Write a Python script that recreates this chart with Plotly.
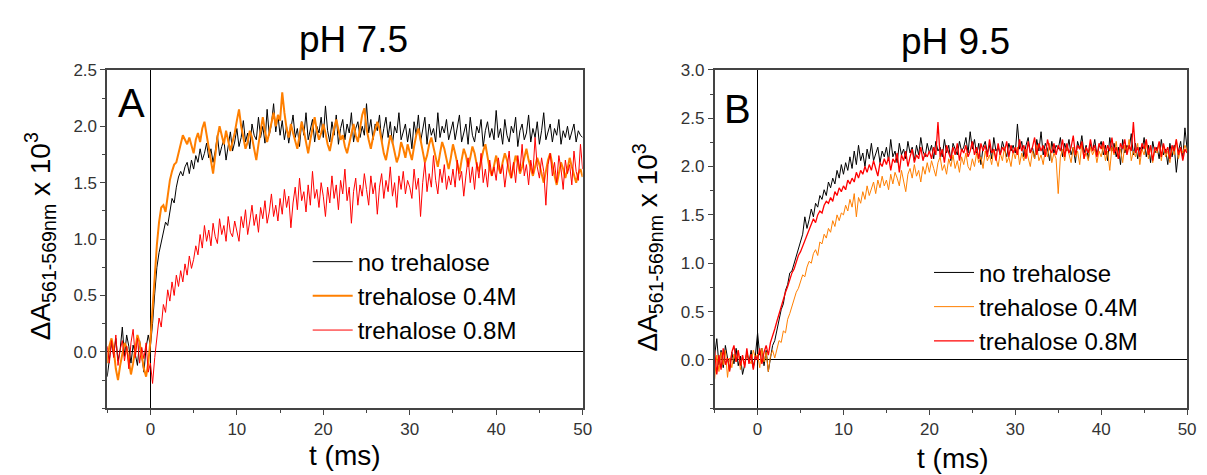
import plotly.graph_objects as go
from plotly.subplots import make_subplots

# time grid (ms), 0.25 ms sampling from -5 to 50
T_START, T_STEP, N_PTS = -5.0, 0.25, 221
t_ms = [round(T_START + T_STEP * i, 2) for i in range(N_PTS)]

series_names = ["no trehalose", "trehalose 0.4M", "trehalose 0.8M"]

# ---- Panel A : pH 7.5 ----
a_no_treh = [
    -0.22, -0.05, 0.08, -0.03, 0.12, -0.08, 0.02, 0.22, -0.04, 0.15, 0.05, -0.10, 0.06, -0.02, -0.12, 0.10, -0.06, -0.18, 0.04, 0.15,
    0.05, 0.25, 0.52, 0.75, 0.88, 0.98, 1.08, 1.15, 1.12, 1.26, 1.36, 1.32, 1.46, 1.55, 1.60, 1.56, 1.64, 1.68, 1.58, 1.70,
    1.62, 1.74, 1.68, 1.80, 1.70, 1.76, 1.85, 1.72, 1.80, 1.68, 1.78, 1.92, 1.74, 1.82, 1.88, 1.70, 1.84, 1.95, 1.78, 1.86,
    1.98, 1.82, 1.90, 2.05, 1.86, 1.94, 1.80, 2.02, 1.92, 1.88, 2.08, 1.90, 2.00, 1.85, 2.15, 1.92, 2.02, 2.20, 1.95, 2.10,
    1.92, 2.05, 1.88, 2.00, 1.85, 1.96, 2.10, 1.90, 1.98, 1.82, 2.04, 1.92, 2.12, 1.88, 1.96, 2.06, 1.86, 2.00, 1.94, 2.08,
    1.90, 2.18, 1.96, 1.86, 2.04, 1.92, 2.10, 1.84, 1.98, 2.06, 1.88, 2.02, 1.94, 2.12, 1.86, 1.98, 2.04, 1.90, 2.00, 1.92,
    2.20, 1.94, 2.06, 1.88, 2.02, 1.96, 2.10, 1.86, 1.98, 2.08, 1.90, 2.04, 1.84, 2.00, 1.94, 2.12, 1.88, 1.96, 2.02, 1.86,
    1.98, 1.80, 2.04, 1.92, 2.10, 1.86, 1.96, 2.08, 1.84, 2.02, 1.92, 1.98, 1.86, 2.12, 1.90, 2.00, 1.94, 2.06, 1.88, 1.96,
    2.04, 1.88, 1.98, 2.10, 1.86, 1.94, 2.02, 1.84, 2.08, 1.92, 1.86, 2.00, 1.94, 2.06, 1.82, 1.96, 2.04, 1.90, 1.98, 1.88,
    2.14, 1.90, 1.98, 1.84, 2.06, 1.92, 1.86, 2.00, 1.94, 2.08, 1.82, 1.96, 2.02, 1.88, 1.94, 2.10, 1.86, 1.98, 1.90, 2.04,
    1.84, 1.96, 2.12, 1.88, 1.94, 2.02, 1.86, 1.98, 1.92, 2.06, 1.84, 1.96, 1.90, 2.00, 1.88, 1.94, 2.02, 1.86, 1.96, 1.92,
    1.90,
]
a_treh_04 = [
    -0.10, 0.05, 0.12, 0.02, -0.15, -0.25, -0.12, 0.00, 0.08, 0.04, -0.08, -0.20, -0.10, 0.05, 0.15, 0.08, -0.05, -0.15, -0.22, -0.10,
    0.10, 0.38, 0.70, 0.95, 1.15, 1.28, 1.30, 1.24, 1.38, 1.52, 1.60, 1.66, 1.68, 1.76, 1.86, 1.92, 1.88, 1.84, 1.90, 1.82,
    1.76, 1.88, 1.94, 1.86, 1.98, 2.04, 1.92, 1.80, 1.70, 1.58, 1.74, 1.90, 2.00, 1.92, 1.84, 1.96, 1.88, 1.78, 1.86, 1.94,
    2.05, 2.15, 2.00, 1.88, 1.80, 1.86, 1.96, 1.90, 1.78, 1.70, 1.84, 1.98, 2.08, 1.96, 1.86, 1.94, 2.04, 2.12, 2.00, 2.10,
    2.05, 2.30, 2.12, 1.98, 1.90, 2.02, 1.94, 1.86, 1.80, 1.92, 2.04, 1.96, 1.84, 1.76, 1.88, 1.98, 2.08, 1.96, 1.88, 1.94,
    2.02, 1.94, 1.84, 1.78, 1.90, 1.98, 2.06, 1.96, 1.88, 1.92, 1.82, 1.76, 1.84, 1.94, 2.02, 1.92, 1.86, 1.98, 2.10, 2.16,
    1.98, 1.88, 1.80, 1.90, 1.96, 2.04, 1.98, 1.88, 1.76, 1.70, 1.80, 1.92, 1.86, 1.76, 1.68, 1.74, 1.86, 1.80, 1.72, 1.84,
    1.78, 1.70, 1.82, 1.92, 1.98, 1.88, 1.76, 1.68, 1.74, 1.84, 1.90, 1.82, 1.72, 1.64, 1.76, 1.86, 1.80, 1.70, 1.62, 1.72,
    1.84, 1.76, 1.66, 1.58, 1.70, 1.80, 1.74, 1.64, 1.72, 1.82, 1.76, 1.66, 1.60, 1.70, 1.78, 1.84, 1.72, 1.62, 1.56, 1.66,
    1.74, 1.64, 1.58, 1.68, 1.76, 1.70, 1.60, 1.54, 1.66, 1.74, 1.68, 1.58, 1.64, 1.72, 1.80, 1.70, 1.62, 1.56, 1.64, 1.72,
    1.66, 1.58, 1.50, 1.60, 1.70, 1.76, 1.64, 1.56, 1.48, 1.58, 1.68, 1.62, 1.54, 1.62, 1.72, 1.64, 1.56, 1.50, 1.58, 1.62,
    1.55,
]
a_treh_08 = [
    0.05, -0.10, 0.10, -0.05, 0.15, -0.12, 0.02, 0.10, -0.08, 0.05, -0.15, 0.08, 0.20, -0.05, 0.12, -0.10, 0.04, -0.06, 0.08, -0.18,
    -0.10, -0.28, -0.05, 0.15, 0.30, 0.22, 0.42, 0.35, 0.55, 0.45, 0.62, 0.50, 0.68, 0.58, 0.72, 0.62, 0.78, 0.68, 0.85, 0.74,
    0.82, 0.94, 0.86, 1.04, 0.92, 1.12, 0.98, 1.08, 0.94, 1.14, 1.02, 0.96, 1.18, 1.04, 1.12, 0.98, 1.20, 1.06, 1.02, 1.16,
    1.08, 0.98, 1.20, 1.10, 1.26, 1.04, 1.16, 1.30, 1.12, 1.22, 1.06, 1.28, 1.18, 1.34, 1.14, 1.24, 1.40, 1.20, 1.30, 1.16,
    1.36, 1.22, 1.44, 1.28, 1.38, 1.10, 1.32, 1.46, 1.26, 1.54, 1.34, 1.42, 1.24, 1.48, 1.30, 1.60, 1.36, 1.44, 1.28, 1.50,
    1.38, 1.20, 1.46, 1.32, 1.56, 1.36, 1.48, 1.26, 1.52, 1.40, 1.62, 1.34, 1.46, 1.14, 1.42, 1.54, 1.30, 1.48, 1.38, 1.58,
    1.44, 1.30, 1.56, 1.40, 1.50, 1.22, 1.46, 1.58, 1.36, 1.52, 1.42, 1.64, 1.38, 1.50, 1.28, 1.56, 1.44, 1.60, 1.40, 1.52,
    1.46, 1.36, 1.62, 1.44, 1.54, 1.20, 1.50, 1.68, 1.42, 1.58, 1.46, 1.74, 1.52, 1.40, 1.62, 1.50, 1.66, 1.44, 1.56, 1.48,
    1.62, 1.46, 1.70, 1.52, 1.60, 1.38, 1.56, 1.72, 1.50, 1.64, 1.44, 1.68, 1.54, 1.76, 1.50, 1.62, 1.46, 1.70, 1.56, 1.64,
    1.52, 1.72, 1.58, 1.66, 1.46, 1.62, 1.78, 1.54, 1.68, 1.50, 1.74, 1.60, 1.84, 1.56, 1.66, 1.48, 1.70, 1.58, 1.90, 1.64,
    1.54, 1.72, 1.60, 1.30, 1.66, 1.76, 1.56, 1.68, 1.50, 1.74, 1.62, 1.44, 1.70, 1.58, 1.66, 1.48, 1.78, 1.60, 1.52, 1.84,
    1.62,
]

# ---- Panel B : pH 9.5 ----
b_no_treh = [
    0.05, 0.22, -0.05, 0.10, -0.08, 0.15, 0.02, -0.10, 0.08, -0.04, 0.12, -0.06, 0.04, -0.15, -0.05, 0.08, -0.02, 0.10, -0.08, 0.05,
    0.28, 0.05, 0.12, -0.06, 0.10, -0.12, 0.02, 0.15, 0.20, 0.30, 0.42, 0.52, 0.58, 0.72, 0.78, 0.90, 0.92, 1.00, 1.08, 1.14,
    1.22, 1.30, 1.48, 1.36, 1.45, 1.56, 1.48, 1.62, 1.58, 1.70, 1.66, 1.76, 1.70, 1.84, 1.78, 1.88, 1.82, 1.96, 1.88, 2.02,
    1.92, 2.04, 1.96, 2.10, 1.98, 2.16, 2.02, 2.22, 2.06, 2.14, 2.00, 2.18, 2.08, 2.24, 2.06, 2.12, 2.20, 2.04, 2.16, 2.10,
    2.20, 2.06, 2.28, 2.10, 2.16, 2.04, 2.24, 2.12, 2.18, 2.08, 2.26, 2.14, 2.20, 2.06, 2.22, 2.12, 2.30, 2.16, 2.10, 2.24,
    2.14, 2.22, 2.08, 2.26, 2.16, 2.20, 2.10, 2.28, 2.14, 2.22, 2.06, 2.24, 2.18, 2.12, 2.26, 2.16, 2.20, 2.30, 2.14, 2.36,
    2.18, 2.28, 2.12, 2.24, 2.02, 2.20, 2.26, 2.14, 2.22, 2.08, 2.30, 2.16, 2.20, 2.12, 2.26, 2.18, 2.10, 2.24, 2.16, 2.22,
    2.14, 2.44, 2.18, 2.26, 2.10, 2.22, 2.30, 2.14, 2.20, 2.08, 2.28, 2.16, 2.36, 2.12, 2.24, 2.18, 2.06, 2.26, 2.14, 2.22,
    2.18, 2.30, 2.10, 2.24, 2.16, 2.28, 2.12, 2.20, 2.04, 2.26, 2.18, 2.32, 2.14, 2.22, 2.08, 2.24, 2.16, 2.28, 2.12, 2.20,
    2.26, 2.12, 2.22, 2.06, 2.30, 2.16, 2.24, 2.10, 2.20, 2.02, 2.28, 2.14, 2.22, 2.18, 2.34, 2.12, 2.24, 2.08, 2.20, 2.16,
    2.30, 2.10, 2.22, 2.04, 2.26, 2.14, 2.20, 2.08, 2.28, 2.12, 2.18, 2.02, 2.24, 2.10, 2.22, 1.94, 2.16, 2.26, 2.08, 2.40,
    2.18,
]
b_treh_04 = [
    -0.20, 0.05, -0.12, 0.08, -0.05, 0.10, -0.18, 0.02, -0.08, 0.06, -0.02, 0.10, -0.10, 0.04, -0.06, 0.08, 0.00, -0.04, 0.10, 0.02,
    0.06, -0.08, 0.12, -0.02, 0.08, -0.12, 0.04, 0.10, 0.02, 0.12, 0.20, 0.18, 0.30, 0.28, 0.42, 0.48, 0.56, 0.62, 0.70, 0.74,
    0.82, 0.88, 0.86, 0.96, 1.02, 1.00, 1.10, 1.14, 1.08, 1.22, 1.20, 1.30, 1.26, 1.36, 1.32, 1.44, 1.38, 1.50, 1.44, 1.52,
    1.50, 1.60, 1.54, 1.66, 1.58, 1.72, 1.48, 1.68, 1.62, 1.74, 1.66, 1.80, 1.70, 1.76, 1.84, 1.72, 1.86, 1.78, 1.90, 1.80,
    1.86, 1.76, 1.92, 1.82, 1.94, 1.88, 1.80, 1.96, 1.86, 1.74, 1.92, 1.98, 1.88, 2.02, 1.90, 1.96, 1.84, 2.00, 1.92, 2.04,
    1.94, 2.06, 1.98, 1.90, 2.04, 2.10, 1.96, 2.02, 1.92, 2.08, 2.00, 2.12, 1.98, 2.06, 1.94, 2.10, 2.02, 2.14, 2.00, 1.96,
    2.08, 2.00, 2.14, 2.04, 2.10, 1.98, 2.16, 2.06, 2.12, 2.02, 2.18, 2.08, 2.00, 2.14, 2.06, 2.20, 2.04, 2.10, 2.00, 2.16,
    2.08, 2.20, 2.02, 2.14, 2.06, 2.18, 2.10, 2.00, 2.16, 2.08, 2.22, 2.06, 2.12, 2.02, 2.18, 2.10, 2.24, 2.04, 2.14, 2.08,
    1.72, 2.10, 2.18, 2.06, 2.22, 2.12, 2.04, 2.20, 2.10, 2.16, 2.02, 2.24, 2.08, 2.14, 2.06, 2.20, 2.12, 2.18, 2.04, 2.16,
    2.10, 2.22, 2.06, 2.16, 1.96, 2.20, 2.12, 2.26, 2.08, 2.18, 2.04, 2.22, 2.14, 2.28, 2.06, 2.16, 2.10, 2.24, 2.02, 2.18,
    2.12, 2.26, 2.08, 2.20, 2.04, 2.18, 2.14, 2.24, 2.06, 2.22, 2.10, 2.16, 2.04, 2.20, 2.12, 2.28, 2.08, 2.18, 2.14, 2.22,
    2.16,
]
b_treh_08 = [
    0.10, -0.15, 0.05, -0.10, 0.12, -0.05, 0.02, -0.12, 0.08, 0.15, -0.02, 0.10, -0.06, 0.05, -0.08, 0.12, -0.04, 0.06, -0.10, 0.04,
    0.00, 0.12, -0.04, 0.08, 0.15, 0.05, 0.18, 0.24, 0.32, 0.40, 0.48, 0.56, 0.62, 0.70, 0.76, 0.84, 0.90, 0.94, 1.02, 1.08,
    1.12, 1.18, 1.24, 1.30, 1.34, 1.40, 1.46, 1.42, 1.50, 1.54, 1.52, 1.60, 1.64, 1.62, 1.68, 1.64, 1.74, 1.70, 1.78, 1.74,
    1.80, 1.76, 1.86, 1.82, 1.88, 1.84, 1.94, 1.88, 1.96, 1.92, 2.00, 1.94, 2.02, 1.96, 2.06, 1.98, 1.90, 2.04, 2.00, 2.08,
    2.02, 2.10, 1.96, 2.08, 2.04, 2.14, 1.94, 2.12, 2.06, 2.16, 2.00, 2.10, 2.18, 2.04, 2.12, 2.08, 2.20, 2.06, 2.14, 2.10,
    2.16, 2.08, 2.20, 2.12, 2.46, 2.10, 2.18, 2.04, 2.22, 2.14, 2.08, 2.20, 2.12, 2.24, 2.06, 2.18, 2.14, 2.22, 2.10, 2.16,
    2.26, 2.12, 2.20, 2.08, 2.24, 2.16, 2.22, 2.10, 2.28, 2.14, 2.18, 2.06, 2.24, 2.12, 2.20, 2.16, 2.26, 2.10, 2.22, 2.14,
    2.20, 2.12, 2.28, 2.16, 2.22, 2.08, 2.26, 2.14, 2.20, 2.30, 2.12, 2.24, 2.16, 2.22, 2.10, 2.28, 2.18, 2.14, 2.24, 2.12,
    2.22, 2.16, 2.28, 2.10, 2.24, 2.14, 2.20, 2.32, 2.12, 2.22, 2.18, 2.26, 2.08, 2.20, 2.14, 2.28, 2.16, 2.22, 2.10, 2.24,
    2.18, 2.26, 2.12, 2.22, 2.16, 2.30, 2.14, 2.20, 2.08, 2.24, 2.18, 2.28, 2.12, 2.22, 2.16, 2.46, 2.14, 2.20, 2.10, 2.24,
    2.18, 2.28, 2.12, 2.22, 2.06, 2.20, 2.16, 2.26, 2.10, 2.24, 2.14, 2.20, 2.08, 2.22, 2.16, 2.28, 2.12, 2.20, 2.06, 2.18,
    2.14,
]

x_tick_vals = [0, 10, 20, 30, 40, 50]
a_y_tick_vals = [0.0, 0.5, 1.0, 1.5, 2.0, 2.5]
b_y_tick_vals = [0.0, 0.5, 1.0, 1.5, 2.0, 2.5, 3.0]

colors = ["#000000", "#FF7F00", "#FF0000"]
FONT = "Arial, Liberation Sans, sans-serif"

fig = make_subplots(rows=1, cols=2)

a_widths = [1.0, 2.0, 1.0]
b_widths = [1.0, 1.0, 1.3]
for name, ys, c, w in zip(series_names, [a_no_treh, a_treh_04, a_treh_08], colors, a_widths):
    fig.add_trace(go.Scatter(x=t_ms, y=ys, mode="lines", name=name,
                             line=dict(color=c, width=w), legend="legend"), row=1, col=1)
for name, ys, c, w in zip(series_names, [b_no_treh, b_treh_04, b_treh_08], colors, b_widths):
    fig.add_trace(go.Scatter(x=t_ms, y=ys, mode="lines", name=name,
                             line=dict(color=c, width=w), legend="legend2"), row=1, col=2)

W, H = 1207, 475
def px(x): return x / W
def py(y): return (H - y) / H

axis_common = dict(showline=True, mirror=True, linecolor="#444", linewidth=1.5,
                   ticks="outside", ticklen=5, tickcolor="#444", tickwidth=1,
                   showgrid=False, zeroline=True, zerolinecolor="#000", zerolinewidth=1,
                   tickfont=dict(family=FONT, size=17, color="#333"))

fig.update_xaxes(**axis_common, range=[-5, 50], tickmode="array", tickvals=x_tick_vals,
                 minor=dict(tickmode="linear", tick0=0, dtick=5, ticks="outside", ticklen=3, tickcolor="#444"))
fig.update_xaxes(domain=[px(108), px(587)], row=1, col=1)
fig.update_xaxes(domain=[px(720), px(1196)], row=1, col=2)
fig.update_yaxes(**axis_common,
                 minor=dict(tickmode="linear", tick0=0, dtick=0.25, ticks="outside", ticklen=3, tickcolor="#444"))
fig.update_yaxes(domain=[py(407), py(62)], range=[-0.5, 2.5], tickmode="array",
                 tickvals=a_y_tick_vals, ticktext=[f"{v:.1f}" for v in a_y_tick_vals], row=1, col=1)
fig.update_yaxes(domain=[py(407), py(62)], range=[-0.5, 3.0], tickmode="array",
                 tickvals=b_y_tick_vals, ticktext=[f"{v:.1f}" for v in b_y_tick_vals], row=1, col=2)

ytitle = "ΔA<sub>561-569nm</sub> x 10<sup>3</sup>"
ann = [
    dict(text="pH 7.5", x=px(356), y=py(31), font=dict(size=37)),
    dict(text="pH 9.5", x=px(963), y=py(33), font=dict(size=37)),
    dict(text="A", x=px(117), y=py(96), xanchor="left", font=dict(size=40)),
    dict(text="B", x=px(727), y=py(102), xanchor="left", font=dict(size=40)),
    dict(text="t (ms)", x=px(348), y=py(455), font=dict(size=28)),
    dict(text="t (ms)", x=px(960), y=py(458), font=dict(size=28)),
    dict(text=ytitle, x=px(40), y=py(232), textangle=-90, font=dict(size=28)),
    dict(text=ytitle, x=px(653), y=py(243), textangle=-90, font=dict(size=28)),
]
for a in ann:
    a.setdefault("xanchor", "center")
    a["yanchor"] = "middle"
    a["xref"] = "paper"
    a["yref"] = "paper"
    a["showarrow"] = False
    a["font"] = dict(family=FONT, color="#000", **a["font"])
    fig.add_annotation(**a)

legend_common = dict(font=dict(family=FONT, size=24, color="#000"), bgcolor="rgba(0,0,0,0)",
                     xanchor="left", yanchor="top", tracegroupgap=0, itemwidth=40)
fig.update_layout(
    width=W, height=H, margin=dict(l=0, r=0, t=0, b=0),
    paper_bgcolor="white", plot_bgcolor="white",
    legend=dict(x=px(310), y=py(235), **legend_common),
    legend2=dict(x=px(936), y=py(246), **legend_common),
    font=dict(family=FONT),
)

fig.write_html("out.html")
